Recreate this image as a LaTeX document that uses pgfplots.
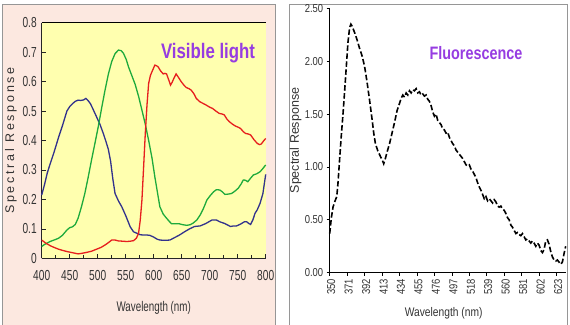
\documentclass[border=0pt]{standalone}
\usepackage{pgfplots}
\pgfplotsset{compat=1.18}
\usepackage{fontspec}
\setmainfont{Liberation Sans}
\newfontfamily\narrowfont[FakeStretch=0.7]{Liberation Sans}
\newfontfamily\semifont[FakeStretch=0.82]{Liberation Sans}
\newfontfamily\titlefont[FakeStretch=0.8]{Liberation Sans}
\newfontfamily\spacedfont[LetterSpace=22]{Liberation Sans}

\definecolor{panelpink}{RGB}{252,232,224}
\definecolor{plotyellow}{RGB}{255,255,175}
\definecolor{framegray}{RGB}{150,150,150}
\definecolor{curveblue}{RGB}{50,50,140}
\definecolor{curvegreen}{RGB}{30,170,60}
\definecolor{curvered}{RGB}{230,30,30}
\definecolor{titlepurple}{RGB}{150,60,225}

\begin{document}
\begin{tikzpicture}[x=1pt,y=1pt]
\path[use as bounding box] (0,0) rectangle (570,324);
% panel frames
\fill[panelpink] (2,-3) rectangle (275,320);
\draw[framegray, line width=0.8pt] (2,-3) -- (2,320) -- (275,320) -- (275,-3);
\draw[framegray, line width=0.8pt] (289,-3) -- (289,320) -- (567,320) -- (567,-3);

% ---------- visible light response ----------
\begin{axis}[
  at={(41.7pt,65.7pt)}, anchor=south west,
  scale only axis, width=224pt, height=235.6pt,
  xmin=400, xmax=800, ymin=0, ymax=0.8,
  axis x line*=bottom, axis y line*=left,
  axis line style={line width=0.8pt, black!85},
  axis background/.style={fill=plotyellow},
  xtick={400,450,...,800}, minor xtick={425,475,...,775},
  ytick={0,0.1,0.2,0.3,0.4,0.5,0.6,0.7,0.8},
  tick align=inside, major tick length=4pt, minor tick length=3pt,
  tick style={black!85, line width=0.7pt},
  /pgf/number format/assume math mode=true,
  ticklabel style={font=\narrowfont\fontsize{14.5}{16}\selectfont, text=black!80},
  xticklabel style={yshift=-8.5pt},
  yticklabel style={xshift=-1.5pt, /pgf/number format/.cd, fixed, precision=1},
  xlabel={Wavelength (nm)}, ylabel={Spectral Response},
  every axis x label/.style={at={(rel axis cs:0.5,0)}, yshift=-49.7pt, anchor=center,
    font=\narrowfont\fontsize{14}{16}\selectfont, text=black!80},
  every axis y label/.style={at={(rel axis cs:0,0.5)}, xshift=-30.7pt, rotate=90, anchor=center,
    font=\spacedfont\fontsize{12.5}{14}\selectfont, text=black!80},
  clip=false,
]
\addplot[curveblue, line width=1.3pt] coordinates {
(400,0.215) (405,0.25) (410,0.29) (415,0.32) (422,0.36) (430,0.41) (437,0.45)
(445,0.50) (450,0.515) (455,0.525) (460,0.533) (465,0.537) (470,0.536) (475,0.538)
(479,0.543) (483,0.535) (487,0.525) (492,0.505) (498,0.48) (504,0.455) (510,0.424)
(515,0.395) (519,0.37) (523,0.33) (527,0.27) (531,0.22) (537,0.195) (543,0.175)
(550,0.145) (558,0.107) (564,0.09) (570,0.085) (576,0.08) (582,0.079) (588,0.079)
(593,0.078) (600,0.072) (606,0.065) (611,0.062) (620,0.061) (629,0.062) (637,0.07)
(646,0.079) (655,0.09) (664,0.10) (673,0.108) (683,0.11) (693,0.118) (704,0.13)
(712,0.13) (718,0.124) (727,0.118) (737,0.108) (743,0.11) (748,0.11) (755,0.116)
(762,0.124) (766,0.124) (770,0.118) (773,0.115) (777,0.13) (781,0.153) (785,0.165)
(790,0.187) (795,0.22) (800,0.285)
};
\addplot[curvegreen, line width=1.3pt] coordinates {
(400,0.04) (405,0.047) (410,0.052) (415,0.057) (422,0.062) (430,0.068) (437,0.078)
(445,0.096) (450,0.104) (455,0.107) (460,0.115) (465,0.136) (471,0.175) (477,0.22)
(483,0.275) (489,0.334) (495,0.39) (501,0.447) (507,0.51) (513,0.57) (519,0.625)
(525,0.668) (531,0.695) (537,0.707) (542,0.705) (546,0.696) (551,0.675) (555,0.65)
(561,0.62) (567,0.59) (573,0.55) (579,0.503) (585,0.455) (591,0.40) (597,0.34)
(602,0.277) (607,0.22) (611,0.175) (617,0.15) (623,0.136) (628,0.125) (632,0.117)
(640,0.117) (646,0.117) (652,0.114) (659,0.112) (665,0.114) (670,0.119) (677,0.13)
(683,0.147) (689,0.17) (695,0.198) (701,0.213) (707,0.226) (712,0.233) (718,0.232)
(723,0.225) (727,0.217) (733,0.218) (739,0.22) (745,0.228) (751,0.238) (756,0.252)
(760,0.266) (764,0.265) (768,0.26) (773,0.272) (778,0.283) (784,0.287) (790,0.294)
(795,0.305) (800,0.317)
};
\addplot[curvered, line width=1.3pt] coordinates {
(400,0.062) (407,0.052) (415,0.043) (422,0.037) (430,0.031) (437,0.027) (445,0.023)
(455,0.019) (465,0.015) (472,0.017) (480,0.02) (489,0.024) (498,0.031) (506,0.037)
(513,0.045) (519,0.053) (525,0.062) (531,0.062) (537,0.059) (545,0.058) (552,0.057)
(558,0.058) (564,0.06) (569,0.068) (573,0.085) (576,0.13) (579,0.198) (582,0.31)
(585,0.424) (588,0.52) (591,0.594) (594,0.62) (597,0.634) (600,0.647) (602,0.656)
(605,0.654) (608,0.65) (612,0.637) (617,0.626) (620,0.628) (623,0.626) (627,0.605)
(630,0.588) (633,0.598) (636,0.611) (640,0.626) (644,0.615) (649,0.60) (654,0.588)
(658,0.58) (663,0.576) (667,0.571) (672,0.558) (676,0.543) (682,0.532) (688,0.526)
(694,0.52) (700,0.513) (705,0.509) (711,0.50) (717,0.492) (722,0.49) (726,0.487)
(731,0.472) (735,0.464) (741,0.455) (746,0.449) (751,0.445) (755,0.441) (760,0.43)
(764,0.424) (769,0.422) (773,0.419) (779,0.403) (785,0.39) (789,0.386) (792,0.388)
(796,0.398) (800,0.407)
};
\draw[black, line width=1.4pt] (rel axis cs:0,1) -- (rel axis cs:1,1);
\end{axis}
\node[font=\titlefont\bfseries\fontsize{21}{24}\selectfont, text=titlepurple] at (208,271) {Visible light};

% ---------- fluorescence response ----------
\begin{axis}[
  at={(329.7pt,51.3pt)}, anchor=south west,
  scale only axis, width=236pt, height=264.4pt,
  xmin=350, xmax=634, ymin=0, ymax=2.5,
  axis x line*=bottom, axis y line*=left,
  axis line style={line width=0.9pt, black},
  xtick={350,371,392,413,434,455,476,497,518,539,560,581,602,623},
  ytick={0,0.5,1,1.5,2,2.5},
  tick align=outside, major tick length=3pt,
  tick style={black, line width=0.7pt},
  /pgf/number format/assume math mode=true,
  ticklabel style={font=\semifont\fontsize{11.5}{13}\selectfont, text=black!80},
  xticklabel style={rotate=90, anchor=east, yshift=-1.5pt},
  yticklabel style={/pgf/number format/.cd, fixed, fixed zerofill, precision=2},
  xlabel={Wavelength (nm)}, ylabel={Spectral Response},
  every axis x label/.style={at={(rel axis cs:0.5,0)}, yshift=-40.3pt, xshift=-4pt, anchor=center,
    font=\semifont\fontsize{12.5}{14}\selectfont, text=black!80},
  every axis y label/.style={at={(rel axis cs:0,0.5)}, xshift=-34pt, rotate=90, anchor=center,
    font=\fontsize{12.5}{14}\selectfont, text=black!80},
  clip=false,
]
\addplot[black, line width=1.6pt, dash pattern=on 5.5pt off 2.5pt] coordinates {
(350,0.37) (352,0.52) (354,0.62) (356.5,0.68) (358.5,0.72) (360,0.85) (362,1.08)
(364,1.30) (366,1.50) (368,1.72) (370,1.95) (372,2.18) (374,2.32) (375.5,2.35)
(377,2.33) (380,2.27) (383,2.20) (386,2.12) (389,2.05) (392,1.95) (395,1.80)
(398,1.63) (401,1.45) (403,1.32) (405,1.22) (408,1.15) (411,1.10) (413,1.07)
(415,1.03) (417,1.08) (419,1.14) (422,1.22) (425,1.32) (428,1.42) (431,1.53)
(434,1.60) (436,1.65) (438,1.68) (440,1.66) (442,1.70) (444,1.68) (446,1.72)
(448,1.70) (450,1.73) (452,1.72) (454,1.74) (456,1.70) (458,1.71) (460,1.68)
(462,1.69) (464,1.67) (466,1.68) (468,1.64) (470,1.62) (472,1.58) (474,1.52)
(476,1.48) (478,1.50) (480,1.44) (482,1.42) (484,1.40) (486,1.36) (488,1.35)
(490,1.32) (492,1.33) (494,1.28) (496,1.25) (498,1.22) (500,1.20) (502,1.16)
(504,1.14) (506,1.12) (508,1.10) (510,1.08) (512,1.05) (514,1.02) (516,1.01)
(518,1.02) (520,0.98) (522,0.96) (524,0.93) (526,0.90) (528,0.85) (530,0.81)
(532,0.78) (534,0.74) (536,0.70) (538,0.72) (540,0.68) (542,0.70) (544,0.68)
(546,0.66) (548,0.69) (550,0.67) (552,0.63) (554,0.62) (556,0.63) (558,0.60)
(560,0.59) (562,0.56) (564,0.52) (566,0.50) (568,0.45) (570,0.43) (572,0.40)
(574,0.37) (576,0.38) (578,0.36) (580,0.35) (582,0.37) (584,0.34) (586,0.31)
(588,0.32) (590,0.30) (592,0.28) (594,0.30) (596,0.28) (598,0.25) (600,0.28)
(602,0.26) (604,0.21) (606,0.19) (608,0.22) (610,0.30) (612,0.31) (614,0.27)
(616,0.20) (618,0.15) (620,0.12) (622,0.11) (624,0.12) (626,0.10) (628,0.08)
(630,0.10) (632,0.18) (634,0.25)
};
\end{axis}
\node[font=\titlefont\bfseries\fontsize{18}{21}\selectfont, text=titlepurple] at (476,271) {Fluorescence};
\end{tikzpicture}
\end{document}
